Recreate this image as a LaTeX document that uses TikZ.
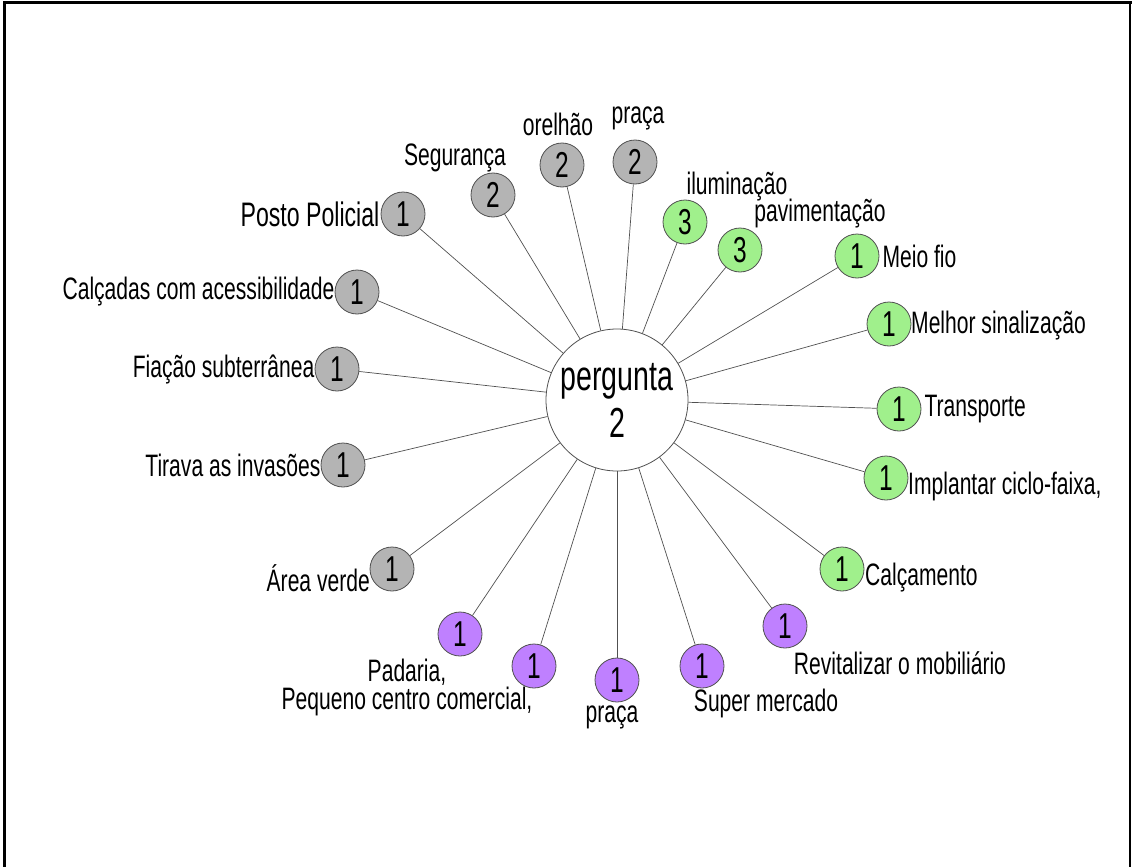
\documentclass[tikz,border=0pt]{standalone}
\usepackage{fontspec}
\setmainfont[FakeStretch=0.68]{Liberation Sans}
\usetikzlibrary{positioning}

\definecolor{cinza}{RGB}{180,180,180}
\definecolor{verde}{RGB}{160,240,140}
\definecolor{roxo}{RGB}{191,128,255}
\definecolor{linha}{RGB}{80,80,80}

\tikzset{every node/.style={inner sep=0pt},
        item/.style={shape=circle,draw=linha,line width=0.8pt,minimum size=44pt,
                font=\fontsize{36}{36}\selectfont},
        gray item/.style={item,fill=cinza},
        green item/.style={item,fill=verde},
        purple item/.style={item,fill=roxo},
        lbl/.style={font=\fontsize{31}{28}\selectfont,align=center},
        hub/.style={shape=circle,draw=linha,line width=0.8pt,minimum size=142pt,
                fill=white,align=center,font=\fontsize{42}{44}\selectfont},
        spoke/.style={draw=linha,line width=0.7pt}}

\begin{document}
\begin{tikzpicture}[x=1pt,y=-1pt]
        \useasboundingbox (0,0) rectangle (1132,867);
        \draw[line width=3pt] (4,867) -- (4,2.5) -- (1132,2.5);
        \draw[line width=1.5pt] (1130,2.5) -- (1130,867);

        \node[hub] (P) at (617,400) {pergunta\\[3pt]2};

        % cinza
        \node[gray item] (posto) at (403,214) {1};
        \node[gray item] (seg) at (493,195) {2};
        \node[gray item] (orel) at (562,165) {2};
        \node[gray item] (pracaA) at (635,162) {2};
        \node[gray item] (calcadas) at (357,292) {1};
        \node[gray item] (fiacao) at (337,369) {1};
        \node[gray item] (tirava) at (343,465) {1};
        \node[gray item] (area) at (392,569) {1};

        % verde
        \node[green item] (ilum) at (685,222) {3};
        \node[green item] (pavi) at (740,250) {3};
        \node[green item] (meio) at (857,256) {1};
        \node[green item] (melhor) at (889,324) {1};
        \node[green item] (transp) at (899,409) {1};
        \node[green item] (ciclo) at (886,478) {1};
        \node[green item] (calcam) at (842,569) {1};

        % roxo
        \node[purple item] (revit) at (785,626) {1};
        \node[purple item] (super) at (702,666) {1};
        \node[purple item] (pracaB) at (617,680) {1};
        \node[purple item] (pequeno) at (534,666) {1};
        \node[purple item] (padaria) at (460,634) {1};

        \foreach \n in {posto,seg,orel,pracaA,calcadas,fiacao,tirava,area,
                ilum,pavi,meio,melhor,transp,ciclo,calcam,
                revit,super,pracaB,pequeno,padaria}
                \path [spoke] (P) edge (\n);

        \node[lbl,font=\fontsize{34}{36}\selectfont,left=1pt of posto] (tposto) {Posto Policial};
        \node[lbl] (tseg) at (455,158) {Segurança};
        \node[lbl] (torel) at (558,124) {orelhão};
        \node[lbl] (tpracaA) at (638,118) {praça};
        \node[lbl,left=0pt of calcadas] (tcalcadas) {Calçadas com acessibilidade};
        \node[lbl,left=0pt of fiacao] (tfiacao) {Fiação subterrânea};
        \node[lbl,left=0pt of tirava] (ttirava) {Tirava as invasões};
        \node[lbl,anchor=east] (tarea) at (370,578) {Área verde};

        \node[lbl] (tilum) at (737,187) {iluminação};
        \node[lbl] (tpavi) at (820,214) {pavimentação};
        \node[lbl,right=3pt of meio] (tmeio) {Meio fio};
        \node[lbl,anchor=west] (tmelhor) at (911,326) {Melhor sinalização};
        \node[lbl,right=3pt of transp] (ttransp) {Transporte};
        \node[lbl,anchor=west] (tciclo) at (908,486) {Implantar ciclo-faixa,};
        \node[lbl,anchor=west] (tcalcam) at (865,578) {Calçamento};

        \node[lbl] (trevit) at (900,663) {Revitalizar o mobiliário};
        \node[lbl] (tsuper) at (766,703) {Super mercado};
        \node[lbl] (tpracaB) at (612,717) {praça};
        \node[lbl] (tpadaria) at (407,687) {Padaria,\\Pequeno centro comercial,};
\end{tikzpicture}
\end{document}
